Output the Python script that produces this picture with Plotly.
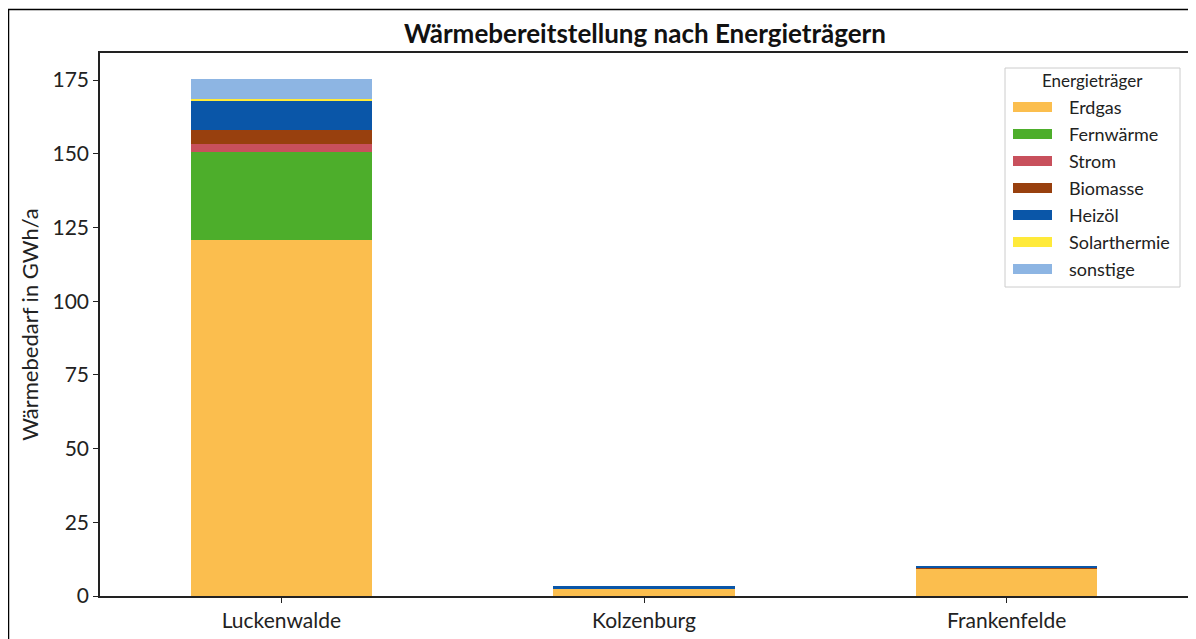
import plotly.graph_objects as go

categories = ["Luckenwalde", "Kolzenburg", "Frankenfelde"]
series_names = ["Erdgas", "Fernwärme", "Strom", "Biomasse", "Heizöl", "Solarthermie", "sonstige"]
erdgas = [120.9, 2.4, 9.3]
fernwaerme = [29.6, 0.0, 0.0]
strom = [2.7, 0.0, 0.1]
biomasse = [5.0, 0.0, 0.1]
heizoel = [9.9, 0.9, 0.8]
solarthermie = [0.4, 0.0, 0.0]
sonstige = [6.8, 0.0, 0.0]
series_values = [erdgas, fernwaerme, strom, biomasse, heizoel, solarthermie, sonstige]
colors = ["#FBBE4E", "#4DAE2B", "#C8505C", "#98400E", "#0A56A8", "#FFEA3A", "#8DB5E3"]

FONT = "Lato"
fig = go.Figure()
x_idx = list(range(len(categories)))
for name, vals, col in zip(series_names, series_values, colors):
    fig.add_trace(go.Bar(x=x_idx, y=vals, name=name, width=0.5,
                         marker=dict(color=col, line=dict(width=0)),
                         showlegend=False))

# page is offset by 8px body margin; target page pixel coords below
OFF = 8
W, H = 1196, 639
L, T = 100 - OFF, 53 - OFF
PR, PB = 1188 - OFF, 596 - OFF   # plot right/bottom in figure coords
R, B = W - PR, H - PB
pw, ph = PR - L, PB - T

def px(x):
    return (x - OFF - L) / pw

def py(y):
    return (PB - (y - OFF)) / ph

shapes = []
annotations = []
# outer frame (top and left visible)
shapes.append(dict(type="rect", xref="paper", yref="paper",
                   x0=px(8.5), x1=px(1300), y0=py(9.5), y1=py(800),
                   line=dict(color="black", width=1.5), fillcolor="rgba(0,0,0,0)", layer="below"))
# legend box
shapes.append(dict(type="rect", xref="paper", yref="paper",
                   x0=px(1005), x1=px(1180), y0=py(68), y1=py(287),
                   line=dict(color="#CCCCCC", width=1), fillcolor="rgba(255,255,255,0.85)"))
annotations.append(dict(text="Energieträger", xref="paper", yref="paper",
                        x=px(1092), y=py(81), xanchor="center", yanchor="middle",
                        showarrow=False, font=dict(family=FONT, size=17, color="#222")))
for i, (name, col) in enumerate(zip(series_names, colors)):
    yc = 107 + i * 27
    shapes.append(dict(type="rect", xref="paper", yref="paper",
                       x0=px(1013), x1=px(1052), y0=py(yc - 5), y1=py(yc + 5),
                       line=dict(width=0), fillcolor=col))
    annotations.append(dict(text=name, xref="paper", yref="paper",
                            x=px(1067), y=py(yc), xanchor="left", yanchor="middle",
                            showarrow=False, font=dict(family=FONT, size=18, color="#222")))

# title as annotation centred over the plot
annotations.append(dict(text="<b>Wärmebereitstellung nach Energieträgern</b>", xref="paper", yref="paper",
                        x=px(645), y=py(33), xanchor="center", yanchor="middle", showarrow=False,
                        font=dict(family=FONT, size=26, color="#111")))

fig.update_layout(
    barmode="stack",
    width=W, height=H,
    margin=dict(l=L, r=R, t=T, b=B),
    paper_bgcolor="white", plot_bgcolor="white",
    font=dict(family=FONT, color="#222"),
    xaxis=dict(tickmode="array", tickvals=x_idx, ticktext=categories, range=[-0.5, 2.5],
               showline=True, linecolor="#222", linewidth=1.5, mirror=True,
               ticks="outside", ticklen=5, tickcolor="#222",
               tickfont=dict(family=FONT, size=21, color="#222"), showgrid=False, zeroline=False),
    yaxis=dict(range=[0, 184.2], tickvals=[0, 25, 50, 75, 100, 125, 150, 175],
               showline=True, linecolor="#222", linewidth=1.5, mirror=True,
               ticks="outside", ticklen=5, tickcolor="#222",
               tickfont=dict(family=FONT, size=21, color="#222"), showgrid=False, zeroline=False,
               title=dict(text="Wärmebedarf in GWh/a", font=dict(family=FONT, size=22, color="#222"), standoff=8)),
    shapes=shapes, annotations=annotations,
)
fig.write_html("out.html")
